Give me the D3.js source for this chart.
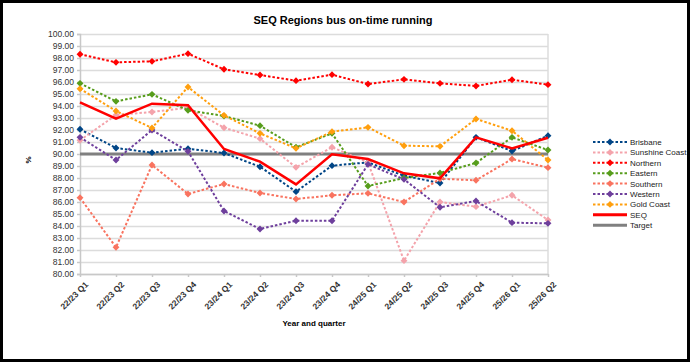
<!DOCTYPE html>
<html>
<head>
<meta charset="utf-8">
<script src="https://cdn.jsdelivr.net/npm/d3@7"></script>
<style>
  body { margin: 0; background: #fff; }
  svg { display: block; font-family: "Liberation Sans", Arial, sans-serif; }
  .grid line { stroke: #dcdcdc; stroke-width: 1.5; }
  .grid path { display: none; }
  .axis path, .axis line { stroke: #c8c8c8; stroke-width: 1.5; }
  .axis text { fill: #333; font-size: 8.5px; }
</style>
</head>
<body>
<svg id="chart" width="690" height="362"></svg>
<script>
// ----------------------------------------------------------------------------
// Data
// ----------------------------------------------------------------------------

var quarters = ["22/23 Q1", "22/23 Q2", "22/23 Q3", "22/23 Q4", "23/24 Q1", "23/24 Q2", "23/24 Q3",
                "23/24 Q4", "24/25 Q1", "24/25 Q2", "24/25 Q3", "24/25 Q4", "25/26 Q1", "25/26 Q2"];

var brisbane      = [92.06, 90.50, 90.11, 90.44, 90.08, 88.94, 86.86, 89.03, 89.30, 88.19, 87.58, 91.39, 90.25, 91.53];
var sunshineCoast = [91.14, 93.25, 93.50, 93.86, 92.19, 91.28, 88.89, 90.56, 89.30, 81.11, 86.00, 85.61, 86.56, 84.50];
var northern      = [98.31, 97.64, 97.72, 98.36, 97.06, 96.58, 96.11, 96.61, 95.83, 96.22, 95.89, 95.67, 96.19, 95.78];
var eastern       = [95.89, 94.39, 94.97, 93.64, 93.17, 92.36, 90.56, 91.72, 87.33, 88.00, 88.42, 89.25, 91.39, 90.33];
var southern      = [86.36, 82.22, 89.08, 86.67, 87.50, 86.75, 86.25, 86.56, 86.72, 86.00, 87.94, 87.81, 89.58, 88.86];
var western       = [91.39, 89.50, 92.00, 90.22, 85.25, 83.75, 84.44, 84.44, 89.14, 87.89, 85.56, 86.08, 84.28, 84.22];
var goldCoast     = [95.44, 93.58, 92.17, 95.58, 93.22, 91.72, 90.47, 91.86, 92.22, 90.69, 90.64, 92.92, 91.94, 89.50];
var seq           = [94.31, 92.94, 94.19, 94.06, 90.42, 89.36, 87.47, 89.97, 89.58, 88.39, 87.97, 91.39, 90.47, 91.36];
var target        = 90;

var yTicks = [80, 81, 82, 83, 84, 85, 86, 87, 88, 89, 90, 91, 92, 93, 94, 95, 96, 97, 98, 99, 100];

// Regional series, in legend order.
var regions = [
    { name: "Brisbane",       values: brisbane,      color: "#004586" },
    { name: "Sunshine Coast", values: sunshineCoast, color: "#f4a3ab" },
    { name: "Northern",       values: northern,      color: "#ff0000" },
    { name: "Eastern",        values: eastern,       color: "#579d1c" },
    { name: "Southern",       values: southern,      color: "#f9735f" },
    { name: "Western",        values: western,       color: "#6e3f9c" },
    { name: "Gold Coast",     values: goldCoast,     color: "#ff9f0e" }
];


// ----------------------------------------------------------------------------
// Chart
// ----------------------------------------------------------------------------

var svg = d3.select("#chart");

// Outer frame
svg.append("rect")
    .attr("x", 1.5).attr("y", 1.5)
    .attr("width", 687).attr("height", 359)
    .attr("fill", "#fff")
    .attr("stroke", "#000")
    .attr("stroke-width", 3);

var plot = { left: 80, right: 548, top: 34, bottom: 274 };

var x = d3.scalePoint().domain(quarters).range([plot.left, plot.right]);
var y = d3.scaleLinear().domain([80, 100]).range([plot.bottom, plot.top]);

// Horizontal gridlines
svg.append("g")
    .attr("class", "grid")
    .attr("transform", "translate(" + plot.left + ",0)")
    .call(d3.axisRight(y).tickValues(yTicks).tickSize(plot.right - plot.left).tickFormat(""));

// Right edge of the plot area
svg.append("line")
    .attr("x1", plot.right).attr("x2", plot.right)
    .attr("y1", plot.top).attr("y2", plot.bottom)
    .attr("stroke", "#dcdcdc").attr("stroke-width", 1.5);

// Y axis
var yAxis = svg.append("g")
    .attr("class", "axis")
    .attr("transform", "translate(" + plot.left + ",0)")
    .call(d3.axisLeft(y).tickValues(yTicks).tickSize(3).tickPadding(3)
        .tickFormat(function(d) { return d3.format(".2f")(d); }));

// X axis
var xAxis = svg.append("g")
    .attr("class", "axis")
    .attr("transform", "translate(0," + plot.bottom + ")")
    .call(d3.axisBottom(x).tickSize(3).tickSizeOuter(0));

xAxis.selectAll("text")
    .attr("text-anchor", "end")
    .attr("font-weight", "bold")
    .attr("fill", "#000")
    .attr("dy", 0)
    .attr("transform", "translate(4,7) rotate(-45)");

// Axis titles
svg.append("text")
    .attr("x", 314).attr("y", 326)
    .attr("text-anchor", "middle")
    .attr("font-size", "8px")
    .attr("font-weight", "bold")
    .text("Year and quarter");

svg.append("text")
    .attr("transform", "translate(31,160) rotate(-90)")
    .attr("text-anchor", "middle")
    .attr("font-size", "8px")
    .attr("font-weight", "bold")
    .text("%");

// Title
svg.append("text")
    .attr("x", 343).attr("y", 24)
    .attr("text-anchor", "middle")
    .attr("font-size", "11px")
    .attr("font-weight", "bold")
    .text("SEQ Regions bus on-time running");

var line = d3.line()
    .x(function(d, i) { return x(quarters[i]); })
    .y(function(d) { return y(d); });

var diamond = d3.symbol().type(d3.symbolDiamond2).size(30);

// Target line
svg.append("line")
    .attr("x1", plot.left).attr("x2", plot.right)
    .attr("y1", y(target)).attr("y2", y(target))
    .attr("stroke", "#808080").attr("stroke-width", 3);

// Regional dotted lines with diamond markers
regions.forEach(function(r) {
    svg.append("path")
        .datum(r.values)
        .attr("fill", "none")
        .attr("stroke", r.color)
        .attr("stroke-width", 2)
        .attr("stroke-dasharray", "2.5,2")
        .attr("d", line);

    svg.append("g").selectAll("path")
        .data(r.values)
        .join("path")
        .attr("d", diamond)
        .attr("fill", r.color)
        .attr("transform", function(d, i) {
            return "translate(" + x(quarters[i]) + "," + y(d) + ")";
        });
});

// SEQ solid line
svg.append("path")
    .datum(seq)
    .attr("fill", "none")
    .attr("stroke", "#ff0000")
    .attr("stroke-width", 2.5)
    .attr("d", line);

// ----------------------------------------------------------------------------
// Legend
// ----------------------------------------------------------------------------

var legendItems = regions.map(function(r) { return { name: r.name, color: r.color, kind: "dot" }; });
legendItems.push({ name: "SEQ", color: "#ff0000", kind: "solid" });
legendItems.push({ name: "Target", color: "#808080", kind: "target" });

var legend = svg.append("g").attr("font-size", "8px");

legendItems.forEach(function(item, i) {
    var ly = 142 + i * 10.4;
    var row = legend.append("g").attr("transform", "translate(0," + ly + ")");
    row.append("line")
        .attr("x1", 593).attr("x2", 627)
        .attr("stroke", item.color)
        .attr("stroke-width", item.kind == "dot" ? 2 : 3)
        .attr("stroke-dasharray", item.kind == "dot" ? "2.5,2" : null);
    if (item.kind == "dot") {
        row.append("path")
            .attr("d", diamond)
            .attr("fill", item.color)
            .attr("transform", "translate(610,0)");
    }
    row.append("text")
        .attr("x", 630).attr("y", 3)
        .attr("fill", "#222")
        .text(item.name);
});
</script>
</body>
</html>
